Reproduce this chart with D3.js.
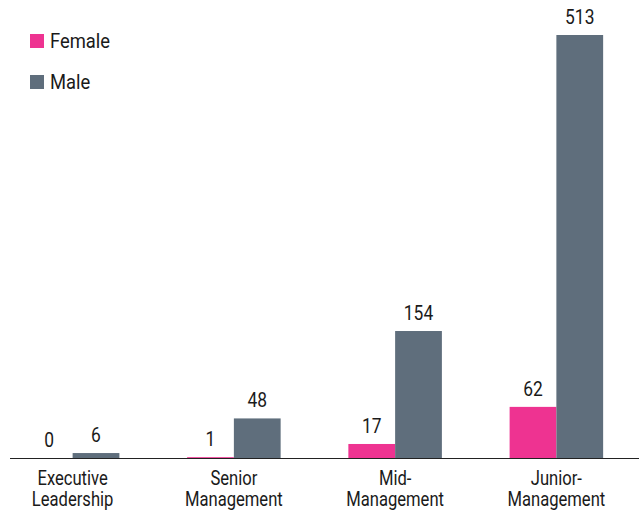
<!DOCTYPE html>
<html>
<head>
<meta charset="utf-8">
<script src="https://cdn.jsdelivr.net/npm/d3@7"></script>
<style>
  body { margin: 0; background: #fff; }
  text { font-family: Roboto, "Noto Sans", sans-serif; fill: #1a1a1a; }
</style>
</head>
<body>
<svg width="639" height="512"></svg>
<script>
var categories = ["Executive Leadership", "Senior Management", "Mid-Management", "Junior-Management"];
var labelLines = [["Executive", "Leadership"], ["Senior", "Management"], ["Mid-", "Management"], ["Junior-", "Management"]];
var seriesNames = ["Female", "Male"];
var female = [0, 1, 17, 62];
var male = [6, 48, 154, 513];
var colors = ["#ee3391", "#5f6e7c"];

var svg = d3.select("svg");
var baseY = 458;

var x0 = d3.scaleBand()
    .domain(categories)
    .range([-8, 637])
    .paddingInner(0.42)
    .paddingOuter(0.21);

var x1 = d3.scaleBand()
    .domain(seriesNames)
    .range([0, x0.bandwidth()]);

var y = d3.scaleLinear()
    .domain([0, 513])
    .range([baseY, 35]);

var rows = categories.map(function(c, i) {
    return {cat: c, values: [{s: "Female", v: female[i]}, {s: "Male", v: male[i]}]};
});

var group = svg.selectAll(".grp")
    .data(rows)
    .enter()
    .append("g")
        .attr("class", "grp")
        .attr("transform", function(d) { return "translate(" + x0(d.cat) + ",0)"; });

group.selectAll("rect")
    .data(function(d) { return d.values; })
    .enter()
    .append("rect")
        .attr("x", function(d) { return x1(d.s); })
        .attr("y", function(d) { return y(d.v); })
        .attr("width", x1.bandwidth())
        .attr("height", function(d) { return baseY - y(d.v); })
        .attr("fill", function(d, i) { return colors[i]; });

// value labels (condensed look via scaleX)
group.selectAll(".val")
    .data(function(d) { return d.values; })
    .enter()
    .append("text")
        .attr("class", "val")
        .attr("transform", function(d) {
            return "translate(" + (x1(d.s) + x1.bandwidth() / 2) + "," + (y(d.v) - 11) + ") scale(0.87,1)";
        })
        .attr("text-anchor", "middle")
        .attr("font-size", "20")
        .text(function(d) { return d.v; });

// baseline
svg.append("line")
    .attr("x1", 10)
    .attr("x2", 639)
    .attr("y1", baseY + 0.5)
    .attr("y2", baseY + 0.5)
    .attr("stroke", "#222")
    .attr("stroke-width", 1.2);

var lab = svg.selectAll(".cat")
    .data(categories)
    .enter()
    .append("text")
        .attr("class", "cat")
        .attr("text-anchor", "middle")
        .attr("font-size", "20.5")
        .attr("transform", function(d) { return "translate(" + (x0(d) + x0.bandwidth() / 2) + ",485) scale(0.81,1)"; });

lab.selectAll("tspan")
    .data(function(d, i) { return labelLines[i]; })
    .enter()
    .append("tspan")
        .attr("x", 0)
        .attr("dy", function(d, i) { return i === 0 ? 0 : 21.5; })
        .text(function(d) { return d; });

// legend
var legend = svg.selectAll(".leg")
    .data(seriesNames)
    .enter()
    .append("g")
        .attr("class", "leg")
        .attr("transform", function(d, i) { return "translate(30," + (34 + i * 41) + ")"; });

legend.append("rect")
    .attr("width", 14)
    .attr("height", 14)
    .attr("fill", function(d, i) { return colors[i]; });

legend.append("text")
    .attr("transform", "translate(20,14) scale(0.92,1)")
    .attr("font-size", "20")
    .text(function(d) { return d; });
</script>
</body>
</html>
